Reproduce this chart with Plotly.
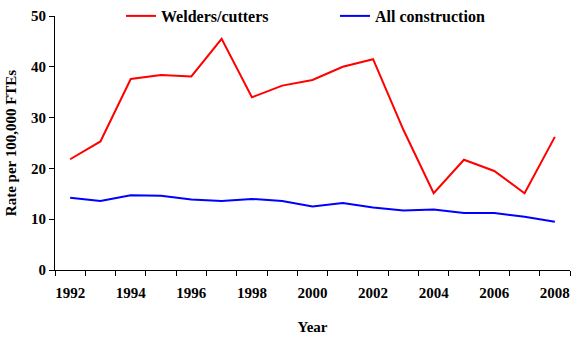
import plotly.graph_objects as go

# Fatal injury rates per 100,000 full-time equivalent workers
years = list(range(1992, 2009))
welders_cutters = [21.8, 25.3, 37.6, 38.4, 38.1, 45.5, 34.0, 36.3, 37.4, 40.0,
                   41.5, 27.6, 15.1, 21.7, 19.5, 15.1, 26.2]
all_construction = [14.2, 13.6, 14.7, 14.6, 13.9, 13.6, 14.0, 13.6, 12.5, 13.2,
                    12.3, 11.7, 11.9, 11.2, 11.2, 10.5, 9.5]
year_labels = [str(y) for y in range(1992, 2009, 2)]
y_ticks = [0, 10, 20, 30, 40, 50]

FONT = "Liberation Serif"

fig = go.Figure()
fig.add_trace(go.Scatter(x=years, y=welders_cutters, mode="lines",
                         name="<b>Welders/cutters</b>",
                         line=dict(color="#ff0000", width=2)))
fig.add_trace(go.Scatter(x=years, y=all_construction, mode="lines",
                         name="<b>All construction</b>",
                         line=dict(color="#0000ff", width=2)))

fig.update_layout(
    width=580, height=340,
    margin=dict(l=55, r=10, t=16, b=70, autoexpand=False),
    paper_bgcolor="white", plot_bgcolor="white",
    font=dict(family=FONT, size=15, color="black"),
    showlegend=True,
    legend=dict(orientation="h", xref="container", yref="container",
                x=121 / 580, xanchor="left", y=1 - 16 / 340, yanchor="middle",
                bgcolor="rgba(0,0,0,0)", entrywidth=169, entrywidthmode="pixels",
                font=dict(family=FONT, size=16, color="black"),
                tracegroupgap=0),
)

fig.update_xaxes(
    range=[1991.5, 2008.5],
    tickmode="array",
    tickvals=[int(v) for v in year_labels],
    ticktext=[f"<b>{v}</b>" for v in year_labels],
    ticks="outside", ticklen=9, tickcolor="rgba(0,0,0,0)",
    minor=dict(tickmode="linear", tick0=1991.5, dtick=1, ticks="outside",
               ticklen=5, tickcolor="black", tickwidth=1),
    showline=True, linecolor="black", linewidth=1,
    showgrid=False, zeroline=False, automargin=False,
    tickfont=dict(family=FONT, size=15),
    title=dict(text="<b>Year</b>", font=dict(family=FONT, size=15), standoff=21),
)
fig.update_yaxes(
    range=[0, 50],
    tickmode="array",
    tickvals=y_ticks,
    ticktext=[f"<b>{v}</b>" for v in y_ticks],
    ticks="outside", ticklen=5, tickcolor="black",
    showline=True, linecolor="black", linewidth=1,
    showgrid=False, zeroline=False, automargin=False,
    tickfont=dict(family=FONT, size=15),
    title=dict(text="<b>Rate per 100,000 FTEs</b>", font=dict(family=FONT, size=15),
               standoff=10),
)

fig.write_html("out.html")
